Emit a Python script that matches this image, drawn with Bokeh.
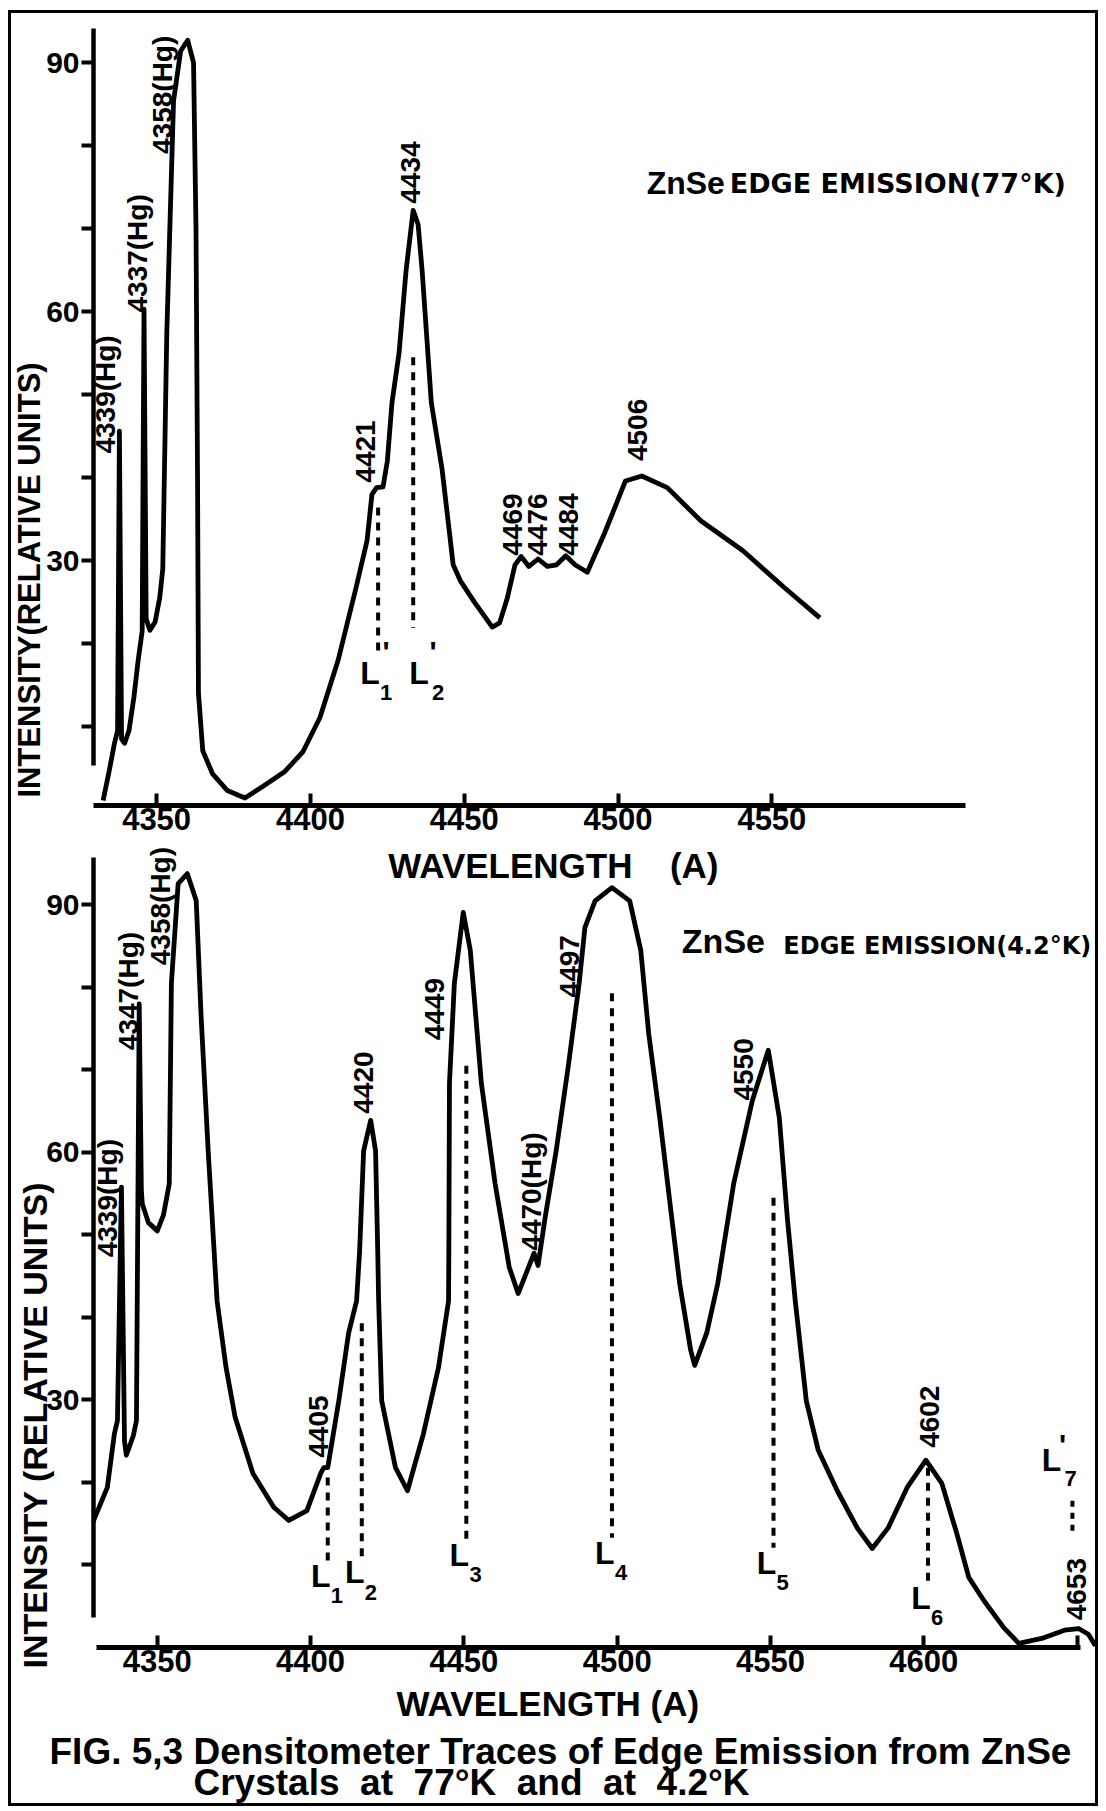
import numpy as np
from bokeh.plotting import figure
from bokeh.models import Range1d, FixedTicker, Label, Title, Spacer
from bokeh.layouts import column, row
from bokeh.embed import file_html
from bokeh.resources import INLINE

# ---------------- data: 77 K trace ----------------
wl_77 = [4332.6, 4334.5, 4336.3, 4337.3, 4337.9, 4338.6, 4339.6, 4341.0, 4342.6, 4344.0,
         4345.3, 4345.9, 4346.6, 4347.8, 4349.5, 4351.0, 4352.0, 4353.3, 4355.5, 4357.8,
         4360.1, 4362.0, 4362.8, 4363.3, 4363.6, 4365.0, 4368.2, 4373.0, 4378.7, 4384.5,
         4391.7, 4397.6, 4403.1, 4409.0, 4414.8, 4418.4, 4420.0, 4421.5, 4423.6, 4425.0,
         4426.5, 4428.8, 4431.1, 4433.4, 4435.0, 4436.3, 4439.3, 4442.8, 4446.4, 4448.7,
         4453.3, 4459.1, 4461.5, 4464.0, 4466.5, 4468.5, 4471.0, 4474.0, 4477.0, 4480.0,
         4483.0, 4486.0, 4490.0, 4495.6, 4502.4, 4507.7, 4516.0, 4526.9, 4540.6, 4554.2,
         4565.6]
int_77 = [1.1, 4.5, 8.0, 9.5, 45.6, 8.5, 8.0, 9.5, 13.5, 18.0,
          21.5, 60.3, 23.0, 21.6, 22.6, 25.5, 29.0, 57.3, 85.4, 91.4,
          92.7, 90.0, 70.0, 40.0, 14.0, 7.1, 4.3, 2.3, 1.4, 2.8,
          4.6, 7.0, 11.1, 18.0, 26.7, 32.4, 38.0, 38.8, 38.9, 42.0,
          49.0, 55.0, 65.0, 72.2, 70.5, 65.0, 49.0, 41.0, 29.5, 27.6,
          25.0, 22.0, 22.5, 25.5, 29.5, 30.5, 29.3, 30.2, 29.3, 29.5,
          30.6, 29.5, 28.6, 33.3, 39.6, 40.2, 38.8, 34.8, 31.2, 26.7,
          23.1]

# ---------------- data: 4.2 K trace ----------------
wl_42 = [4327.9, 4333.7, 4336.0, 4337.0, 4338.3, 4339.3, 4339.9, 4342.2, 4343.2, 4344.1,
         4344.8, 4345.1, 4347.1, 4350.0, 4352.0, 4353.9, 4354.6, 4356.8, 4359.8, 4362.7,
         4364.3, 4366.6, 4369.5, 4372.4, 4375.4, 4381.2, 4388.0, 4392.9, 4398.8, 4403.3,
         4404.3, 4405.6, 4409.2, 4412.4, 4415.0, 4416.0, 4417.3, 4419.6, 4421.2, 4421.9,
         4422.2, 4423.2, 4427.7, 4431.6, 4436.8, 4441.7, 4445.0, 4445.1, 4445.3, 4446.9,
         4449.8, 4452.1, 4455.7, 4460.2, 4464.8, 4467.7, 4470.7, 4472.9, 4474.2, 4476.5,
         4480.1, 4484.0, 4487.6, 4489.5, 4492.8, 4498.3, 4504.1, 4507.7, 4510.3, 4513.9,
         4517.8, 4520.4, 4524.0, 4525.3, 4529.2, 4532.8, 4538.0, 4544.1, 4549.3, 4552.9,
         4555.5, 4558.1, 4561.7, 4565.6, 4571.8, 4578.3, 4583.2, 4588.4, 4594.6, 4600.7,
         4605.9, 4610.8, 4614.7, 4619.6, 4626.1, 4631.0, 4638.5, 4645.9, 4650.5, 4653.7,
         4656.0]
int_42 = [14.2, 19.4, 25.9, 27.5, 55.8, 25.0, 23.3, 25.7, 27.5, 78.0,
          55.4, 53.8, 51.5, 50.5, 52.4, 56.2, 80.5, 92.6, 93.8, 90.5,
          76.4, 60.2, 42.0, 34.0, 27.9, 21.1, 17.0, 15.4, 16.6, 21.1,
          21.8, 21.8, 29.9, 38.1, 42.0, 48.1, 60.2, 63.9, 60.2, 48.1,
          42.0, 29.9, 21.8, 19.0, 25.9, 33.9, 42.0, 48.1, 68.4, 80.5,
          89.1, 84.5, 68.4, 56.2, 46.1, 42.9, 45.7, 47.8, 46.3, 52.1,
          60.2, 70.3, 80.5, 87.3, 90.5, 92.1, 90.5, 84.5, 74.4, 64.2,
          52.1, 44.1, 36.0, 34.2, 38.1, 44.1, 56.2, 66.3, 72.4, 64.2,
          52.1, 42.0, 29.9, 23.9, 19.0, 14.5, 12.0, 14.5, 19.4, 22.7,
          19.9, 13.8, 8.5, 5.7, 2.4, 0.5, 1.1, 2.1, 2.3, 1.6,
          0.2]

# ---------------- peak labels (rotated) ----------------
pk77_text = ["4339(Hg)", "4337(Hg)", "4358(Hg)", "4421", "4434", "4469", "4476", "4484", "4506"]
pk77_wl = [4333.4, 4343.8, 4352.0, 4417.8, 4432.4, 4465.6, 4473.8, 4483.9, 4506.4]
pk77_y = [42.9, 59.9, 79.0, 39.4, 73.0, 30.6, 30.6, 30.6, 42.0]

pk42_text = ["4339(Hg)", "4347(Hg)", "4358(Hg)", "4405", "4420", "4449", "4470(Hg)", "4497", "4550", "4602", "4653"]
pk42_wl = [4333.7, 4340.6, 4351.0, 4402.7, 4417.3, 4440.4, 4472.0, 4484.6, 4541.2, 4602.0, 4649.8]
pk42_y = [47.3, 72.4, 82.7, 23.0, 64.7, 73.6, 48.1, 78.8, 66.3, 24.2, 3.3]

# ---------------- dotted L lines ----------------
L77_wl = [4422.0, 4433.4]
L77_top = [36.4, 54.5]
L77_bot = [18.8, 21.9]
L77_sub = ["1", "2"]

L42_wl = [4405.6, 4416.7, 4450.8, 4498.3, 4551.0, 4601.4, 4648.5]
L42_top = [20.6, 39.3, 70.5, 79.3, 54.5, 21.8, 17.8]
L42_bot = [10.5, 10.9, 13.0, 13.3, 12.1, 7.8, 13.8]

# tick values
x_ticks_77 = [4350, 4400, 4450, 4500, 4550]
x_ticks_42 = [4350, 4400, 4450, 4500, 4550, 4600, 4650]
y_ticks = [10, 20, 30, 40, 50, 60, 70, 80, 90]
y_labels = {30: "30", 60: "60", 90: "90"}

FONT = "Liberation Sans"
WIDE = "DejaVu Sans"
PK = 28  # peak label size
NB = "\u00a0"


def lab(p, x, y, text, size, angle=0.0, align="center", baseline="middle", font=FONT):
    p.add_layout(Label(x=x, y=y, text=text, text_font=font, text_font_size=f"{size}px",
                       text_font_style="bold", text_color="black", angle=angle,
                       text_align=align, text_baseline=baseline))


def ttl(p, side, text, size, offset, standoff):
    p.add_layout(Title(text=text, align="left", offset=offset, standoff=standoff,
                       text_font=FONT, text_font_size=f"{size}px", text_font_style="bold",
                       text_color="black"), side)


def style(p, xticks, xbounds, ybounds, xover):
    p.outline_line_color = None
    p.xgrid.visible = False
    p.ygrid.visible = False
    p.background_fill_color = "white"
    p.border_fill_color = "white"
    xa = p.xaxis[0]
    ya = p.yaxis[0]
    xa.ticker = FixedTicker(ticks=xticks)
    xa.bounds = xbounds
    xa.axis_line_width = 5
    xa.major_tick_line_width = 4
    xa.major_tick_in = 12
    xa.major_tick_out = 0
    xa.minor_tick_line_color = None
    xa.major_label_text_font = FONT
    xa.major_label_text_font_size = "31px"
    xa.major_label_text_font_style = "bold"
    xa.major_label_text_color = "black"
    xa.major_label_standoff = 2
    xa.major_label_overrides = xover
    ya.ticker = FixedTicker(ticks=y_ticks)
    ya.bounds = ybounds
    ya.axis_line_width = 4.5
    ya.major_tick_line_width = 4
    ya.major_tick_in = 0
    ya.major_tick_out = 12
    ya.minor_tick_line_color = None
    ya.major_label_text_font = FONT
    ya.major_label_text_font_size = "30px"
    ya.major_label_text_font_style = "bold"
    ya.major_label_text_color = "black"
    ya.major_label_standoff = 2
    ya.major_label_overrides = {t: y_labels.get(t, "") for t in y_ticks}


# ================= top panel (77 K) =================
p1 = figure(width=1084, height=832, x_range=Range1d(4329.48, 4655.2), y_range=Range1d(0.5, 95.08),
            output_backend="svg", toolbar_location=None,
            min_border_left=82, min_border_right=0, min_border_top=7, min_border_bottom=40)
style(p1, x_ticks_77, (4329.5, 4613), (5.3, 94.1), {})
ttl(p1, "left", "INTENSITY(RELATIVE UNITS)", 31, 8, -7)
p1.line(wl_77, int_77, line_color="black", line_width=4.8, line_join="round")
p1.segment(L77_wl, L77_top, L77_wl, L77_bot, line_color="black", line_width=4, line_dash="8 7")
for t, x, y in zip(pk77_text, pk77_wl, pk77_y):
    lab(p1, x, y, t, PK, angle=np.pi / 2, align="left")
L77_dx = [-2.6, 1.9]
L77_pdx = [2.6, 6.5]
L77_sdx = [2.6, 8.1]
for x, s, dl, dp, ds in zip(L77_wl, L77_sub, L77_dx, L77_pdx, L77_sdx):
    lab(p1, x + dl, 16.5, "L", 32)
    lab(p1, x + dp, 19.0, "'", 30)
    lab(p1, x + ds, 14.1, s, 22)
lab(p1, 4509.3, 75.5, "ZnSe", 32, align="left", baseline="alphabetic")
lab(p1, 4536.3, 75.5, "EDGE EMISSION(77°K)", 27, align="left", baseline="alphabetic", font=WIDE)

# ================= bottom panel (4.2 K) =================
p2 = figure(width=1084, height=958, x_range=Range1d(4329.19, 4656.03), y_range=Range1d(0.0, 97.09),
            output_backend="svg", toolbar_location=None,
            min_border_left=73, min_border_right=0, min_border_top=1, min_border_bottom=156)
style(p2, x_ticks_42, (4330.2, 4651.1), (3.6, 95.8), {4650: ""})
ttl(p2, "left", "INTENSITY (RELATIVE UNITS)", 34, -21, -21)
ttl(p2, "below", "WAVELENGTH (A)", 35, 303, 14)
ttl(p2, "below", "FIG. 5,3 Densitometer Traces of Edge Emission from ZnSe", 37, -44, -2)
ttl(p2, "below", (" " + NB).join(["Crystals", "at", "77°K", "and", "at", "4.2°K"]), 37, 100, -21)
p2.line(wl_42, int_42, line_color="black", line_width=4.8, line_join="round")
p2.segment(L42_wl[:6], L42_top[:6], L42_wl[:6], L42_bot[:6], line_color="black", line_width=4, line_dash="8 7")
p2.segment(L42_wl[6:], L42_top[6:], L42_wl[6:], L42_bot[6:], line_color="black", line_width=4, line_dash="6 6")
for t, x, y in zip(pk42_text, pk42_wl, pk42_y):
    lab(p2, x, y, t, PK, angle=np.pi / 2, align="left")
for i, x in enumerate(L42_wl[:6]):
    yb = L42_bot[i]
    lab(p2, x - 2.3, yb - 1.8, "L", 32)
    lab(p2, x + 3.0, yb - 4.2, str(i + 1), 22)
x7 = L42_wl[6]
lab(p2, x7 - 6.8, 22.7, "L", 32)
lab(p2, x7 - 3.2, 24.6, "'", 30)
lab(p2, x7 - 0.6, 20.5, "7", 22)

lab(p2, 4521.1, 85.6, "ZnSe", 34, align="left", baseline="alphabetic")
lab(p2, 4554.2, 85.0, "EDGE EMISSION(4.2°K)", 24, align="left", baseline="alphabetic", font=WIDE)
# x-axis title of the upper trace (sits just above the lower trace)
lab(p2, 4425.3, 94.8, "WAVELENGTH", 35, align="left")
lab(p2, 4517.2, 94.8, "(A)", 35, align="left")

boxed = column(p1, p2, styles={"border": "3px solid black", "background-color": "white"})
layout = column(Spacer(height=10), row(Spacer(width=8), boxed))
open("out.html", "w").write(file_html(layout, INLINE))
